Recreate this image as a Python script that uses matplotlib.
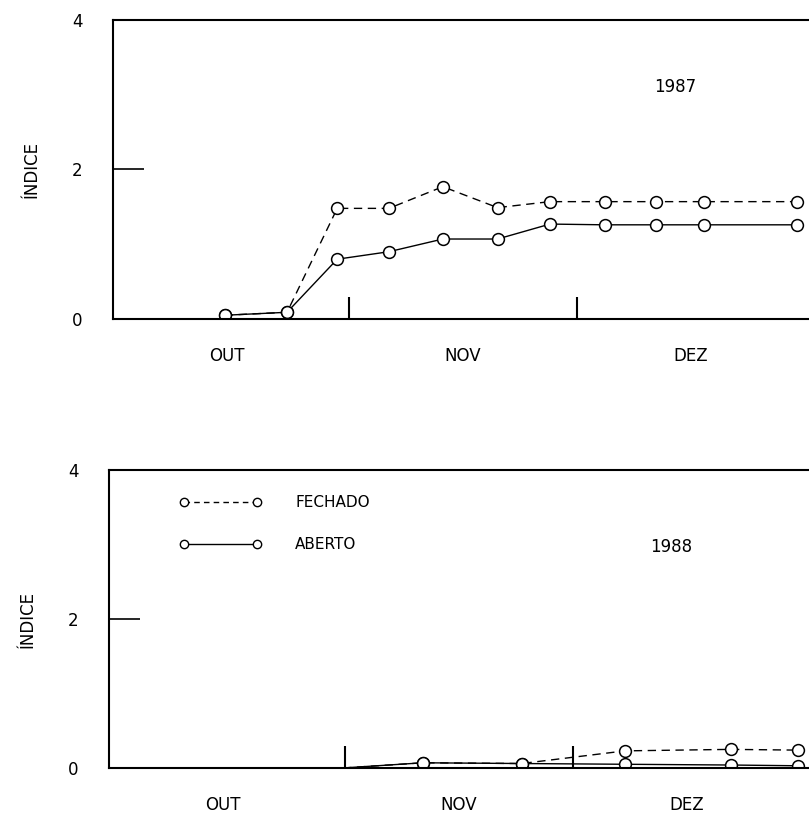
import numpy as np
import matplotlib.pyplot as plt
from matplotlib.lines import Line2D
from matplotlib.ticker import FixedLocator, NullFormatter

# days counted from 1 October
month_edges = [31, 61]
month_names = ['OUT', 'NOV', 'DEZ']
month_centers = [15, 46, 76]

# 1987
days_87 = [14.7, 22.9, 29.5, 36.3, 43.4, 50.6, 57.5, 64.7, 71.5, 77.8, 90.0]
aberto_87 = [0.05, 0.09, 0.80, 0.90, 1.07, 1.07, 1.27, 1.26, 1.26, 1.26, 1.26]
fechado_87 = [0.05, 0.09, 1.48, 1.48, 1.77, 1.49, 1.57, 1.57, 1.57, 1.57, 1.57]

# 1988 (first value is where the line leaves the axis, no marker)
days_88 = [30.8, 41.3, 54.3, 67.9, 81.8, 90.6]
aberto_88 = [0.0, 0.07, 0.06, 0.05, 0.04, 0.03]
fechado_88 = [0.0, 0.07, 0.06, 0.23, 0.25, 0.24]

W, H = 809, 819
fig = plt.figure(figsize=(W / 100, H / 100), dpi=100)

px_per_day = 7.6
xmax = 93
ax_w = xmax * px_per_day / W


def setup(ax, year_label, year_pos):
    ax.set_xlim(0, xmax)
    ax.set_ylim(0, 4)
    ax.spines['right'].set_visible(False)
    for s in ['left', 'bottom', 'top']:
        ax.spines[s].set_linewidth(1.5)
    ax.set_yticks([0, 2, 4])
    ax.set_yticklabels(['0', '2', '4'], fontsize=12)
    ax.tick_params(axis='y', direction='in', length=22, width=1.2, pad=22)
    ax.set_xticks(month_centers)
    ax.set_xticklabels(month_names, fontsize=12)
    ax.tick_params(axis='x', which='major', length=0, pad=20)
    ax.xaxis.set_minor_locator(FixedLocator(month_edges))
    ax.xaxis.set_minor_formatter(NullFormatter())
    ax.tick_params(axis='x', which='minor', direction='in', length=16, width=1.5)
    ax.set_ylabel('ÍNDICE', fontsize=12)
    ax.yaxis.set_label_coords(-72 / (xmax * px_per_day), 0.5)
    ax.text(year_pos[0], year_pos[1], year_label, fontsize=12, ha='center', va='center')


mk = dict(marker='o', markersize=8.5, markerfacecolor='white',
          markeredgecolor='black', markeredgewidth=1.1, color='black', lw=1.0)

# top panel
ax1 = fig.add_axes([113 / W, (H - 319) / H, ax_w, 299 / H])
ax1.plot(days_87, fechado_87, linestyle=(0, (6, 4)), **mk)
ax1.plot(days_87, aberto_87, linestyle='-', **mk)
setup(ax1, '1987', (74, 3.11))

# bottom panel
ax2 = fig.add_axes([109 / W, (H - 768) / H, ax_w, 298 / H])
ax2.plot(days_88, fechado_88, linestyle=(0, (6, 4)), markevery=list(range(1, len(days_88))), **mk)
ax2.plot(days_88, aberto_88, linestyle='-', markevery=list(range(1, len(days_88))), **mk)
setup(ax2, '1988', (74, 2.97))

handles = [
    Line2D([], [], color='black', lw=1.0, linestyle=(0, (4, 3)), marker='o', markersize=6,
           markerfacecolor='white', markeredgecolor='black'),
    Line2D([], [], color='black', lw=1.0, linestyle='-', marker='o', markersize=6,
           markerfacecolor='white', markeredgecolor='black'),
]
ax2.legend(handles, ['FECHADO', 'ABERTO'], loc='upper left', bbox_to_anchor=(0.099, 0.915),
           frameon=False, numpoints=2, handlelength=5.4, handletextpad=2.2,
           labelspacing=1.75, borderpad=0, borderaxespad=0, fontsize=11)

fig.savefig('out.png', dpi=100)
